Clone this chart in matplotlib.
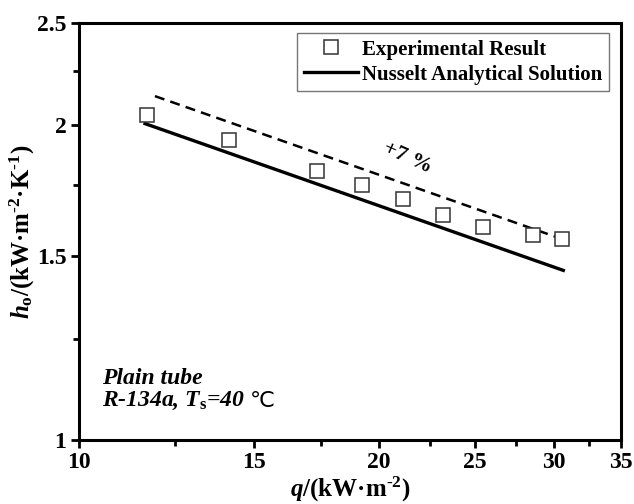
import matplotlib
matplotlib.use("Agg")
import matplotlib.pyplot as plt
from matplotlib.ticker import FixedLocator, NullFormatter

# measured data
q_exp = [11.7, 14.16, 17.36, 19.25, 21.18, 23.18, 25.48, 28.56, 30.56]
h_exp = [2.042, 1.932, 1.805, 1.752, 1.698, 1.640, 1.599, 1.571, 1.555]

# Nusselt solution and +7 % band (straight on log-log axes)
q_nus = [11.65, 30.65]
h_nus = [2.005, 1.452]
q_band = [11.92, 30.6]
h_band = [2.13, 1.555]

x_ticks = [10, 15, 20, 25, 30, 35]
x_minor = [12.5, 17.5, 22.5, 27.5, 32.5]
y_ticks = [1, 1.5, 2, 2.5]
y_tick_labels = ["1", "1.5", "2", "2.5"]
y_minor = [1.25, 1.75, 2.25]

plt.rcParams['font.family'] = ['Liberation Serif', 'DejaVu Serif']
plt.rcParams['font.weight'] = 'bold'
plt.rcParams['mathtext.fontset'] = 'custom'
plt.rcParams['mathtext.rm'] = 'Liberation Serif:bold'
plt.rcParams['mathtext.it'] = 'Liberation Serif:italic:bold'
plt.rcParams['mathtext.bf'] = 'Liberation Serif:bold'

fig = plt.figure(figsize=(6.34, 5.04), dpi=100)
ax = fig.add_axes([0.1246, 0.127, 0.979 - 0.1246, 0.9538 - 0.127])

ax.plot(q_exp, h_exp, linestyle='none', marker='s', markersize=9.6,
        markerfacecolor='white', markeredgecolor='#333333', markeredgewidth=1.1,
        label='Experimental Result', zorder=3)
ax.plot(q_nus, h_nus, color='black', lw=2.4, label='Nusselt Analytical Solution')
ax.plot(q_band, h_band, color='black', lw=1.8, dashes=(4, 2.5))

ax.set_xscale('log')
ax.set_yscale('log')
ax.set_xlim(10, 35)
ax.set_ylim(1, 2.5)

ax.xaxis.set_major_locator(FixedLocator(x_ticks))
ax.xaxis.set_minor_locator(FixedLocator(x_minor))
ax.set_xticklabels([str(t) for t in x_ticks])
ax.xaxis.set_minor_formatter(NullFormatter())
ax.yaxis.set_major_locator(FixedLocator(y_ticks))
ax.yaxis.set_minor_locator(FixedLocator(y_minor))
ax.set_yticklabels(y_tick_labels)
ax.yaxis.set_minor_formatter(NullFormatter())

ax.tick_params(which='major', direction='out', length=6, width=2, labelsize=17, pad=3)
ax.tick_params(which='minor', direction='out', length=4, width=2)
for lab in ax.get_xticklabels() + ax.get_yticklabels():
    lab.set_fontweight('bold')
for s in ax.spines.values():
    s.set_linewidth(2.2)

ax.set_xlabel(r'$q$/(kW·m$^{\text{-2}}$)', fontsize=18, fontweight='bold', labelpad=1)
ax.set_ylabel(r'$h_\mathrm{o}$/(kW·m$^{\text{-2}}$·K$^{\text{-1}}$)', fontsize=18,
              fontweight='bold', labelpad=0)

leg = ax.legend(loc='upper right', bbox_to_anchor=(0.978, 0.977), borderaxespad=0,
                fontsize=15, frameon=True, fancybox=False, handlelength=2.6,
                handletextpad=0.2, labelspacing=0.25, borderpad=0.32)
leg.get_frame().set_edgecolor('#555555')
leg.get_frame().set_linewidth(1.0)
for t in leg.get_texts():
    t.set_fontweight('bold')

ax.text(21.4, 1.86, '+7 %', fontsize=16, fontweight='bold', rotation=-24,
        ha='center', va='center')
ax.text(0.042, 0.148, 'Plain tube', transform=ax.transAxes, fontsize=17,
        fontweight='bold', style='italic', va='center')
cond = ax.text(0.042, 0.093, r'R-134a, $T_\mathrm{s}$=40', transform=ax.transAxes,
               fontsize=17, fontweight='bold', style='italic', va='center')
ax.annotate('℃', xy=(1, 0.5), xycoords=cond, xytext=(4, 0),
            textcoords='offset points', fontsize=16, fontweight='normal',
            family='DejaVu Sans', va='center', ha='left')

fig.savefig('out.png', dpi=100)
